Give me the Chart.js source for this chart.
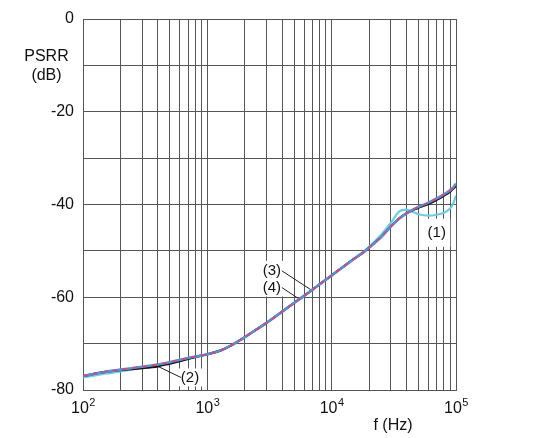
<!DOCTYPE html>
<html>
<head>
<meta charset="utf-8">
<script src="https://cdn.jsdelivr.net/npm/chart.js@4.4.1/dist/chart.umd.min.js"></script>
<style>
  html, body { margin: 0; padding: 0; background: #fff; }
  #wrap { width: 540px; height: 438px; }
</style>
</head>
<body>
<div id="wrap"><canvas id="psrr" width="540" height="438"></canvas></div>
<script>
// frequency points (Hz)
const freqs = [100, 150, 200, 300, 400, 500, 600, 700, 800, 1000, 1300, 1600, 2000, 2500, 3000,
  4000, 5000, 6000, 8000, 10000, 12000, 15000, 18000, 20000, 25000, 30000, 35000, 40000,
  45000, 50000, 60000, 70000, 80000, 90000, 95000, 100000];

// PSRR (dB)
const curve1 = [-77.3, -76.5, -76.0, -75.2, -74.6, -74.0, -73.5, -73.1, -72.8, -72.3, -71.4, -70.2, -68.6, -66.9, -65.5,
  -63.1, -61.2, -59.7, -57.2, -55.3, -53.7, -51.7, -50.2, -49.1, -46.5, -43.9, -41.5, -41.1,
  -41.6, -42.1, -42.4, -42.2, -41.8, -40.8, -39.7, -38.1];
const curve2 = [-77.0, -76.1, -75.7, -75.3, -74.9, -74.3, -73.8, -73.3, -72.9, -72.3, -71.4, -70.2, -68.6, -66.9, -65.5,
  -63.1, -61.2, -59.7, -57.2, -55.3, -53.7, -51.8, -50.3, -49.3, -47.0, -44.7, -43.0, -41.9,
  -41.2, -40.7, -39.9, -39.0, -38.1, -37.2, -36.6, -36.0];
const curve3 = [-77.0, -76.1, -75.6, -75.0, -74.5, -74.0, -73.5, -73.1, -72.8, -72.3, -71.4, -70.2, -68.6, -66.9, -65.5,
  -63.1, -61.2, -59.7, -57.2, -55.3, -53.7, -51.8, -50.3, -49.3, -47.0, -44.7, -43.0, -41.9,
  -41.1, -40.5, -39.6, -38.7, -37.8, -36.9, -36.3, -35.5];
const curve4 = [-77.0, -76.1, -75.6, -75.0, -74.5, -74.0, -73.5, -73.1, -72.8, -72.3, -71.4, -70.2, -68.6, -66.9, -65.5,
  -63.1, -61.2, -59.7, -57.2, -55.3, -53.7, -51.8, -50.3, -49.3, -47.0, -44.7, -43.0, -41.9,
  -41.1, -40.5, -39.6, -38.7, -37.8, -36.9, -36.3, -35.5];

// axes
const xDecades = [100, 1000, 10000, 100000];
const xExponents = ['2', '3', '4', '5'];
const yLabelled = [0, -20, -40, -60, -80];

// grid lines at 1..9 x each decade
const xGrid = [];
xDecades.forEach((d, i) => {
  if (i === xDecades.length - 1) { xGrid.push(d); return; }
  for (let m = 1; m < 10; m++) xGrid.push(d * m);
});

// curve call-outs: label position (Hz, dB) and where the leader touches the curve
const notes = [
  { text: '(1)', f: 70000, db: -46.1, w: 27, h: 28 },
  { text: '(2)', f: 725, db: -77.3, w: 26, h: 18, to: 400, curve: curve2, dx: -9 },
  { text: '(3)', f: 3300, db: -54.3, w: 28, h: 20, to: 6900, curve: curve3, dx: 10 },
  { text: '(4)', f: 3300, db: -57.9, w: 28, h: 18, to: 5500, curve: curve4, dx: 10 }
];

const FONT = '"Liberation Sans", Arial, sans-serif';

function pts(ys) {
  return freqs.map((f, i) => ({ x: f, y: ys[i] }));
}

// value of a curve at f, interpolated on log f
function curveAt(ys, f) {
  const lf = Math.log10(f);
  for (let i = 1; i < freqs.length; i++) {
    if (freqs[i] >= f) {
      const a = Math.log10(freqs[i - 1]), b = Math.log10(freqs[i]);
      const t = (lf - a) / (b - a);
      return ys[i - 1] + t * (ys[i] - ys[i - 1]);
    }
  }
  return ys[ys.length - 1];
}

const notePlugin = {
  id: 'notes',
  beforeDatasetsDraw(chart) {
    const { ctx, scales: { x, y } } = chart;
    ctx.save();
    ctx.font = '15px ' + FONT;
    ctx.textAlign = 'center';
    ctx.textBaseline = 'middle';
    notes.forEach(n => {
      const px = x.getPixelForValue(n.f), py = y.getPixelForValue(n.db);
      ctx.fillStyle = '#fff';
      ctx.fillRect(px - n.w / 2, py - n.h / 2, n.w, n.h);
    });
    notes.forEach(n => {
      const px = x.getPixelForValue(n.f), py = y.getPixelForValue(n.db);
      ctx.fillStyle = '#111';
      ctx.fillText(n.text, px, py);
      if (n.to) {
        ctx.strokeStyle = '#222';
        ctx.lineWidth = 1;
        ctx.beginPath();
        ctx.moveTo(px + n.dx, py);
        ctx.lineTo(x.getPixelForValue(n.to), y.getPixelForValue(curveAt(n.curve, n.to)));
        ctx.stroke();
      }
    });
    ctx.restore();
  },
  afterDraw(chart) {
    const { ctx, scales: { x } } = chart;
    ctx.save();
    ctx.fillStyle = '#111';
    ctx.textBaseline = 'alphabetic';
    // decade labels 10^n with a raised exponent
    xDecades.forEach((d, i) => {
      ctx.font = '16px ' + FONT;
      const wBase = ctx.measureText('10').width;
      ctx.font = '11px ' + FONT;
      const wExp = ctx.measureText(xExponents[i]).width;
      const left = x.getPixelForValue(d) - (wBase + wExp) / 2;
      ctx.textAlign = 'left';
      ctx.font = '16px ' + FONT;
      ctx.fillText('10', left, 413);
      ctx.font = '11px ' + FONT;
      ctx.fillText(xExponents[i], left + wBase + 0.5, 406);
    });
    ctx.font = '16px ' + FONT;
    ctx.textAlign = 'center';
    ctx.textBaseline = 'middle';
    ctx.fillText('PSRR', 46.5, 56.5);
    ctx.fillText('(dB)', 46.5, 75.5);
    ctx.fillText('f (Hz)', 393, 425.5);
    ctx.restore();
  }
};

const ctx = document.getElementById('psrr').getContext('2d');
new Chart(ctx, {
  type: 'line',
  data: {
    datasets: [
      { label: '(4)', data: pts(curve4), borderColor: '#d9457f', borderWidth: 1.6, borderDash: [5, 5], order: 1 },
      { label: '(3)', data: pts(curve3), borderColor: '#5a8fd2', borderWidth: 2.6, order: 2 },
      { label: '(2)', data: pts(curve2), borderColor: '#111111', borderWidth: 2.2, order: 3 },
      { label: '(1)', data: pts(curve1), borderColor: '#6fcbe0', borderWidth: 2.2, order: 4 }
    ]
  },
  options: {
    responsive: false,
    animation: false,
    layout: { padding: { left: 0, right: 84, top: 19, bottom: 0 } },
    elements: {
      point: { radius: 0 },
      line: { tension: 0.35, fill: false }
    },
    plugins: {
      legend: { display: false },
      tooltip: { enabled: false }
    },
    scales: {
      x: {
        type: 'logarithmic',
        min: 100,
        max: 100000,
        afterBuildTicks: s => { s.ticks = xGrid.map(v => ({ value: v })); },
        afterFit: s => { s.height = 48; },
        grid: { color: '#555', lineWidth: 1, drawTicks: false },
        border: { color: '#555' },
        ticks: {
          autoSkip: false,
          maxRotation: 0,
          callback: () => ''
        }
      },
      y: {
        min: -80,
        max: 0,
        afterFit: s => { s.width = 83; },
        grid: { color: '#555', lineWidth: 1, drawTicks: false },
        border: { color: '#555' },
        ticks: {
          stepSize: 10,
          padding: 9,
          color: '#111',
          font: { family: FONT, size: 16 },
          callback: v => (yLabelled.includes(v) ? String(v) : '')
        }
      }
    }
  },
  plugins: [notePlugin]
});
</script>
</body>
</html>
